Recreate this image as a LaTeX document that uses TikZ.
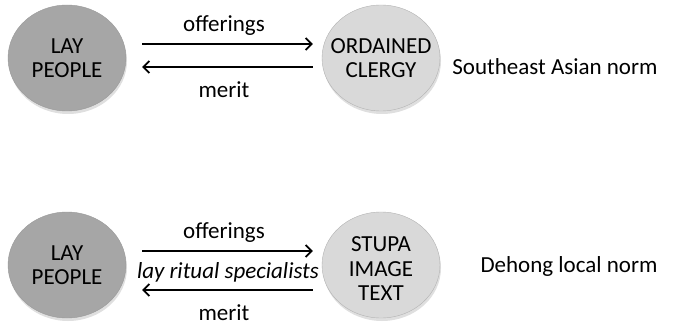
\documentclass[tikz,border=0pt]{standalone}
\usepackage{fontspec}
\setmainfont{Carlito}
\usetikzlibrary{shapes, arrows.meta, positioning, shadows}
\definecolor{laygrey}{HTML}{A6A6A6}
\definecolor{holygrey}{HTML}{D9D9D9}
\tikzstyle{every node}=[font=\fontsize{23}{24.5}\selectfont]
\tikzstyle{disc}=[ellipse, minimum width=118pt, minimum height=106pt, inner sep=0pt,
  drop shadow={shadow xshift=1pt, shadow yshift=-3pt, opacity=0.25}]
\tikzstyle{laydisc}=[disc, fill=laygrey, draw=gray!80, line width=0.4pt]
\tikzstyle{holydisc}=[disc, fill=holygrey, draw=gray!60, line width=0.4pt]
\tikzstyle{flow}=[-{Straight Barb[length=6pt,width=12pt]}, line width=1.8pt,
  shorten <=16pt, shorten >=9pt]
\tikzstyle{back}=[{Straight Barb[length=6pt,width=12pt]}-, line width=1.8pt,
  shorten <=16pt, shorten >=9pt]

\begin{document}
\begin{tikzpicture}[x=1pt, y=-1pt]
    \useasboundingbox (0,0) rectangle (680,326);
    % Southeast Asian norm
    \node[laydisc, label={[align=center]center:LAY\\PEOPLE}] (lay1) at (67,58) {};
    \node[holydisc, label={[align=center]center:ORDAINED\\CLERGY}] (clergy) at (381,58) {};
    \draw[flow] ([yshift=14pt]lay1.east) -- node[above=7.5pt, inner sep=0pt] {offerings} ([yshift=14pt]clergy.west);
    \draw[back] ([yshift=-9pt]lay1.east) -- node[below=14pt, inner sep=0pt] {merit} ([yshift=-9pt]clergy.west);
    \node (norm1) at (555,67) {Southeast Asian norm};
    % Dehong local norm
    \node[laydisc, label={[align=center]center:LAY\\PEOPLE}] (lay2) at (67,265) {};
    \node[holydisc, label={[align=center, yshift=-4pt]center:STUPA\\IMAGE\\TEXT}] (stupa) at (381,265) {};
    \draw[flow] ([yshift=14pt]lay2.east) -- node[above=7.5pt, inner sep=0pt] {offerings} ([yshift=14pt]stupa.west);
    \draw[back] ([yshift=-25pt]lay2.east) -- node[below=14pt, inner sep=0pt] {merit} ([yshift=-25pt]stupa.west);
    \node[font=\fontsize{23}{24.5}\selectfont\itshape] (ritual) at (228,272) {lay ritual specialists};
    \node (norm2) at (569,266) {Dehong local norm};
\end{tikzpicture}
\end{document}
